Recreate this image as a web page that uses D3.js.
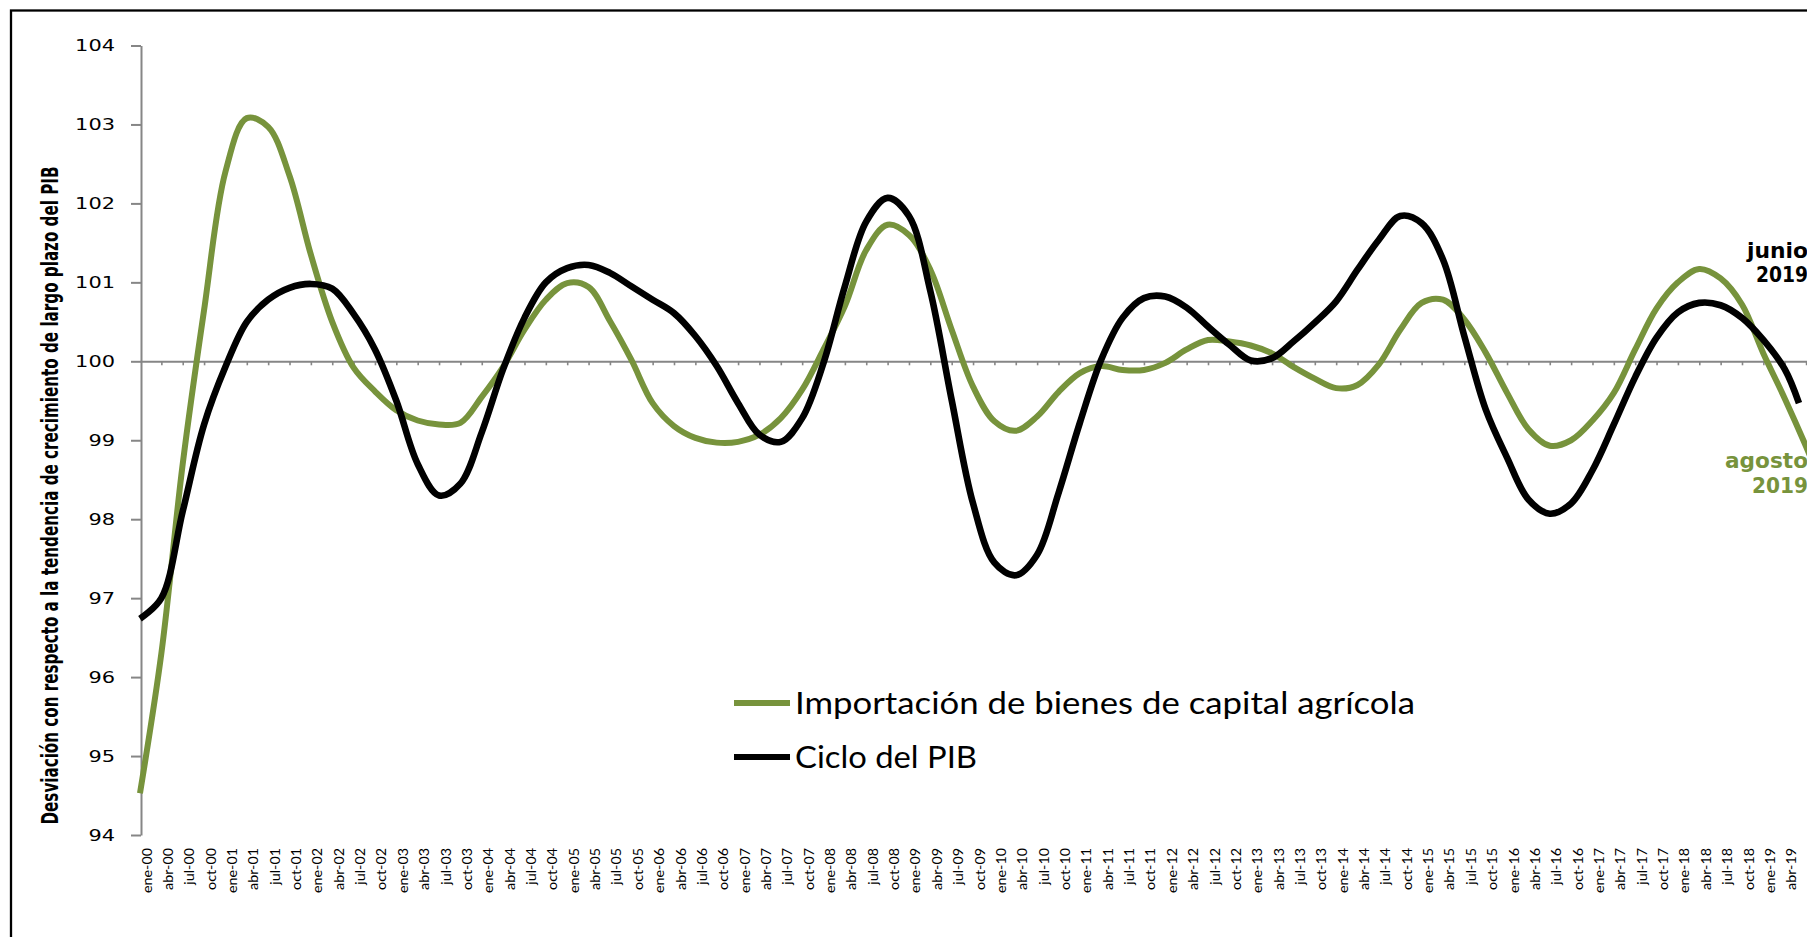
<!DOCTYPE html>
<html>
<head>
<meta charset="utf-8">
<script src="https://cdn.jsdelivr.net/npm/d3@7"></script>
<style>
  html, body { margin: 0; padding: 0; background: #fff; }
  svg { display: block; }
</style>
</head>
<body>
<div id="chart"></div>
<script>
// Importación de bienes de capital agrícola vs ciclo del PIB (2000-2019)
// Values, one per quarter label.

const monthNames = ['ene', 'feb', 'mar', 'abr', 'may', 'jun', 'jul', 'ago', 'sep', 'oct', 'nov', 'dic'];

const quarterLabels = [
  'ene-00', 'abr-00', 'jul-00', 'oct-00', 'ene-01', 'abr-01', 'jul-01', 'oct-01',
  'ene-02', 'abr-02', 'jul-02', 'oct-02', 'ene-03', 'abr-03', 'jul-03', 'oct-03',
  'ene-04', 'abr-04', 'jul-04', 'oct-04', 'ene-05', 'abr-05', 'jul-05', 'oct-05',
  'ene-06', 'abr-06', 'jul-06', 'oct-06', 'ene-07', 'abr-07', 'jul-07', 'oct-07',
  'ene-08', 'abr-08', 'jul-08', 'oct-08', 'ene-09', 'abr-09', 'jul-09', 'oct-09',
  'ene-10', 'abr-10', 'jul-10', 'oct-10', 'ene-11', 'abr-11', 'jul-11', 'oct-11',
  'ene-12', 'abr-12', 'jul-12', 'oct-12', 'ene-13', 'abr-13', 'jul-13', 'oct-13',
  'ene-14', 'abr-14', 'jul-14', 'oct-14', 'ene-15', 'abr-15', 'jul-15', 'oct-15',
  'ene-16', 'abr-16', 'jul-16', 'oct-16', 'ene-17', 'abr-17', 'jul-17', 'oct-17',
  'ene-18', 'abr-18', 'jul-18', 'oct-18', 'ene-19', 'abr-19', 'jul-19'
];

// Importación de bienes de capital agrícola (green)
const importValues = [
  94.53, 96.30, 98.70, 100.65, 102.40, 103.08, 102.97, 102.35,
  101.35, 100.50, 99.92, 99.62, 99.38, 99.25, 99.20, 99.22,
  99.55, 99.93, 100.40, 100.78, 100.99, 100.94, 100.51, 100.02,
  99.47, 99.18, 99.03, 98.97, 98.98, 99.07, 99.28, 99.64,
  100.15, 100.70, 101.41, 101.73, 101.60, 101.16, 100.40, 99.68,
  99.24, 99.12, 99.30, 99.61, 99.85, 99.94, 99.89, 99.89,
  99.98, 100.15, 100.27, 100.25, 100.20, 100.10, 99.93, 99.78,
  99.66, 99.70, 99.96, 100.40, 100.74, 100.78, 100.53, 100.11,
  99.60, 99.14, 98.93, 99.00, 99.25, 99.60, 100.15, 100.67,
  101.00, 101.17, 101.05, 100.72, 100.10, 99.53, 98.92
];
const importEnd = ['ago-19', 98.70];

// Ciclo del PIB (black), last observation junio 2019
const pibValues = [
  96.74, 97.00, 98.10, 99.20, 99.93, 100.50, 100.78, 100.93,
  100.98, 100.92, 100.60, 100.15, 99.50, 98.70, 98.30, 98.45,
  99.10, 99.90, 100.55, 101.00, 101.18, 101.22, 101.12, 100.95,
  100.78, 100.61, 100.32, 99.94, 99.47, 99.07, 98.98, 99.28,
  99.98, 100.95, 101.77, 102.07, 101.84, 100.89, 99.51, 98.20,
  97.45, 97.29, 97.55, 98.33, 99.22, 100.02, 100.55, 100.80,
  100.82, 100.68, 100.44, 100.21, 100.01, 100.04, 100.25, 100.49,
  100.76, 101.16, 101.54, 101.84, 101.75, 101.29, 100.32, 99.39,
  98.78, 98.25, 98.07, 98.20, 98.62, 99.20, 99.80, 100.30,
  100.62, 100.74, 100.71, 100.55, 100.27, 99.90
];
const pibEnd = ['jun-19', 99.47];

const yTicks = [94, 95, 96, 97, 98, 99, 100, 101, 102, 103, 104];

const seriesNames = ['Importación de bienes de capital agrícola', 'Ciclo del PIB'];
const seriesColors = ['#77933c', '#000000'];

// ── Helpers ────────────────────────────────────────────────────────────────
function monthIndex(label) {
  const [m, y] = label.split('-');
  return (+y) * 12 + monthNames.indexOf(m);
}

const importData = quarterLabels
  .map((lab, i) => ({ m: monthIndex(lab), v: importValues[i] }))
  .concat([{ m: monthIndex(importEnd[0]), v: importEnd[1] }]);

const pibData = pibValues
  .map((v, i) => ({ m: monthIndex(quarterLabels[i]), v }))
  .concat([{ m: monthIndex(pibEnd[0]), v: pibEnd[1] }]);

// ── Dimensions ─────────────────────────────────────────────────────────────
const W = 1807;
const H = 937;
const plot = { left: 140, top: 45.5, bottom: 835, monthStep: 7.12 };
const lastMonth = monthIndex(importEnd[0]);

// ── Scales ─────────────────────────────────────────────────────────────────
const x = d3.scaleLinear()
  .domain([0, lastMonth])
  .range([plot.left, plot.left + lastMonth * plot.monthStep]);

const y = d3.scaleLinear()
  .domain([94, 104])
  .range([plot.bottom, plot.top]);

// ── SVG ────────────────────────────────────────────────────────────────────
const svg = d3.select('#chart')
  .append('svg')
  .attr('width', W)
  .attr('height', H);

svg.append('rect')
  .attr('width', W).attr('height', H)
  .attr('fill', '#fff');

// chart frame (only top and left edges fall inside the picture)
svg.append('rect')
  .attr('x', 11).attr('y', 10.5)
  .attr('width', 3000).attr('height', 3000)
  .attr('fill', 'none')
  .attr('stroke', '#000')
  .attr('stroke-width', 2.3);

// Y axis
svg.append('g')
  .attr('transform', `translate(${plot.left + 1},0)`)
  .call(d3.axisLeft(y).tickValues(yTicks).tickSize(10).tickSizeOuter(0).tickPadding(16))
  .call(ax => ax.select('.domain').attr('stroke', '#868686').attr('stroke-width', 2))
  .call(ax => ax.selectAll('line').attr('stroke', '#868686').attr('stroke-width', 2))
  .call(ax => ax.selectAll('text')
    .attr('fill', '#000')
    .style('font-family', '"DejaVu Sans", Verdana, sans-serif')
    .style('font-size', '16.5px')
    .attr('textLength', d => String(d).length * 13.3)
    .attr('lengthAdjust', 'spacingAndGlyphs'));

// Horizontal axis crossing at 100
const quarterMonths = quarterLabels.map(monthIndex);
svg.append('g')
  .attr('transform', `translate(0,${y(100)})`)
  .call(d3.axisBottom(x).tickValues(quarterMonths.slice(1)).tickSize(4).tickSizeOuter(0).tickFormat(''))
  .call(ax => ax.select('.domain').attr('stroke', '#868686').attr('stroke-width', 2))
  .call(ax => ax.selectAll('line').attr('stroke', '#868686').attr('stroke-width', 1.6));

// Category labels along the bottom, rotated
svg.append('g')
  .selectAll('text')
  .data(quarterLabels)
  .join('text')
  .attr('transform', d => `translate(${x(monthIndex(d)) + 11.5},848) rotate(-90)`)
  .attr('text-anchor', 'end')
  .attr('fill', '#000')
  .style('font-family', 'Lato, "Open Sans", sans-serif')
  .style('font-size', '14.3px')
  .text(d => d);

// Y axis title
svg.append('text')
  .attr('transform', 'translate(58,495.5) rotate(-90)')
  .attr('text-anchor', 'middle')
  .attr('fill', '#000')
  .attr('textLength', 658)
  .attr('lengthAdjust', 'spacingAndGlyphs')
  .style('font-family', '"Liberation Sans Narrow", "DejaVu Sans Condensed", "Liberation Sans", sans-serif')
  .style('font-weight', 'bold')
  .style('font-size', '23.5px')
  .text('Desviación con respecto a la tendencia de crecimiento de largo plazo del PIB');

// ── Lines ──────────────────────────────────────────────────────────────────
const line = d3.line()
  .x(d => x(d.m))
  .y(d => y(d.v))
  .curve(d3.curveCatmullRom.alpha(0.5));

svg.append('path')
  .datum(importData)
  .attr('fill', 'none')
  .attr('stroke', seriesColors[0])
  .attr('stroke-width', 6)
  .attr('stroke-linejoin', 'round')
  .attr('d', line);

svg.append('path')
  .datum(pibData)
  .attr('fill', 'none')
  .attr('stroke', seriesColors[1])
  .attr('stroke-width', 6.6)
  .attr('stroke-linejoin', 'round')
  .attr('stroke-linecap', 'butt')
  .attr('d', line);

// ── Legend ─────────────────────────────────────────────────────────────────
const legendRows = [
  { name: seriesNames[0], color: seriesColors[0], cy: 703, len: 620 },
  { name: seriesNames[1], color: seriesColors[1], cy: 757, len: 182 }
];
const legend = svg.append('g');
legendRows.forEach(r => {
  legend.append('line')
    .attr('x1', 734).attr('x2', 790)
    .attr('y1', r.cy).attr('y2', r.cy)
    .attr('stroke', r.color)
    .attr('stroke-width', 6);
  legend.append('text')
    .attr('x', 795).attr('y', r.cy + 10.5)
    .attr('fill', '#000')
    .attr('textLength', r.len)
    .attr('lengthAdjust', 'spacingAndGlyphs')
    .style('font-family', 'Lato, "Open Sans", sans-serif')
    .style('font-size', '30px')
    .text(r.name);
});

// ── End-of-series notes ────────────────────────────────────────────────────
const notes = [
  { lines: ['junio', '2019'], color: seriesColors[1], y: [258, 282], len: [61, 52] },
  { lines: ['agosto', '2019'], color: seriesColors[0], y: [468, 493], len: [83, 56] }
];
notes.forEach(n => {
  n.lines.forEach((t, i) => {
    svg.append('text')
      .attr('x', 1808).attr('y', n.y[i])
      .attr('text-anchor', 'end')
      .attr('fill', n.color)
      .attr('textLength', n.len[i])
      .attr('lengthAdjust', 'spacingAndGlyphs')
      .style('font-family', '"DejaVu Sans", Verdana, sans-serif')
      .style('font-weight', 'bold')
      .style('font-size', '21.5px')
      .text(t);
  });
});
</script>
</body>
</html>
